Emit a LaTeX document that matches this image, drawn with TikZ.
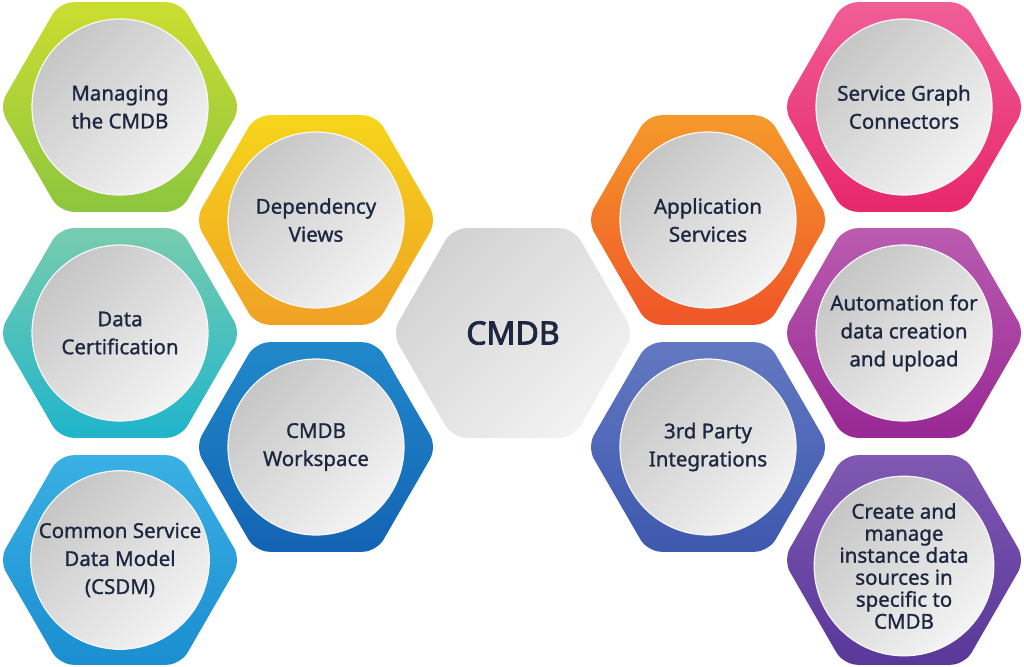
\documentclass[tikz,border=0pt]{standalone}
\usepackage{fontspec}
\setmainfont{Noto Sans}
\newfontfamily\medfont{Noto Sans}[BoldFont={Noto Sans}, BoldFeatures={FakeBold=1.1}]
\newfontfamily\heavyfont{Noto Sans}[BoldFont={Noto Sans}, BoldFeatures={FakeBold=2.6}]
\usetikzlibrary{shapes.geometric}
\definecolor{txt}{HTML}{1E2640}
\definecolor{bubbletop}{HTML}{C6C6C6}
\definecolor{bubblebot}{HTML}{F4F4F4}
\definecolor{bubbleedge}{HTML}{F7F7F7}
\definecolor{midtop}{HTML}{D2D2D2}
\definecolor{midbot}{HTML}{F2F2F2}
\definecolor{gA}{HTML}{CCDD30}\definecolor{gB}{HTML}{8CC63F}
\definecolor{yA}{HTML}{F6D51A}\definecolor{yB}{HTML}{F0A125}
\definecolor{tA}{HTML}{78CCAE}\definecolor{tB}{HTML}{1FB5CB}
\definecolor{wA}{HTML}{2089CA}\definecolor{wB}{HTML}{1463B4}
\definecolor{cA}{HTML}{3AB0E4}\definecolor{cB}{HTML}{1A8ED0}
\definecolor{oA}{HTML}{F59A2A}\definecolor{oB}{HTML}{EF5528}
\definecolor{pA}{HTML}{6278C2}\definecolor{pB}{HTML}{3E58AE}
\definecolor{rA}{HTML}{F05E98}\definecolor{rB}{HTML}{E7276A}
\definecolor{mA}{HTML}{BA5CB0}\definecolor{mB}{HTML}{982894}
\definecolor{vA}{HTML}{8058B2}\definecolor{vB}{HTML}{583899}
\tikzset{
  hexa/.style={regular polygon, regular polygon sides=6, minimum size=242pt,
    inner sep=0pt, outer sep=0pt, rounded corners=14pt, shading angle=-45},
  bubble/.style={circle, minimum size=176pt, inner sep=0pt, draw=bubbleedge,
    line width=1.2pt, top color=bubbletop, bottom color=bubblebot, shading angle=45,
    align=center, text=txt, font=\medfont\bfseries\fontsize{20.5}{28}\selectfont},
  core/.style={hexa, top color=midtop, bottom color=midbot, shading angle=45,
    text=txt, font=\heavyfont\bfseries\fontsize{32}{38}\selectfont},
}
\begin{document}
\begin{tikzpicture}[x=1pt,y=-1pt]
\useasboundingbox (0,0) rectangle (1024,666);
% hexagons
\node[hexa, top color=gA, bottom color=gB] (h1) at (120,107) {};
\node[hexa, top color=tA, bottom color=tB] (h2) at (120,333) {};
\node[hexa, top color=cA, bottom color=cB] (h3) at (120,560) {};
\node[hexa, top color=yA, bottom color=yB] (h4) at (316,220) {};
\node[hexa, top color=wA, bottom color=wB] (h5) at (316,447) {};
\node[core] (h0) at (513,333) {CMDB};
\node[hexa, top color=oA, bottom color=oB] (h6) at (708,220) {};
\node[hexa, top color=pA, bottom color=pB] (h7) at (708,447) {};
\node[hexa, top color=rA, bottom color=rB] (h8) at (904,107) {};
\node[hexa, top color=mA, bottom color=mB] (h9) at (904,333) {};
\node[hexa, top color=vA, bottom color=vB] (h10) at (904,560) {};
% bubbles
\node[bubble] (b1) at (h1.center) {Managing\\the CMDB};
\node[bubble] (b2) at (h2.center) {Data\\Certification};
\node[bubble] (b3) at (h3.center) {Common Service\\Data Model\\(CSDM)};
\node[bubble] (b4) at (h4.center) {Dependency\\Views};
\node[bubble] (b5) at (h5.center) {CMDB\\Workspace};
\node[bubble] (b6) at (h6.center) {Application\\Services};
\node[bubble] (b7) at (h7.center) {3rd Party\\Integrations};
\node[bubble] (b8) at (h8.center) {Service Graph\\Connectors};
\node[bubble] (b9) at (h9.center) {Automation for\\data creation\\and upload};
\node[bubble, font=\medfont\bfseries\fontsize{20.5}{22}\selectfont] (b10) at (904,566) {Create and\\manage\\instance data\\sources in\\specific to\\CMDB};
\end{tikzpicture}
\end{document}
